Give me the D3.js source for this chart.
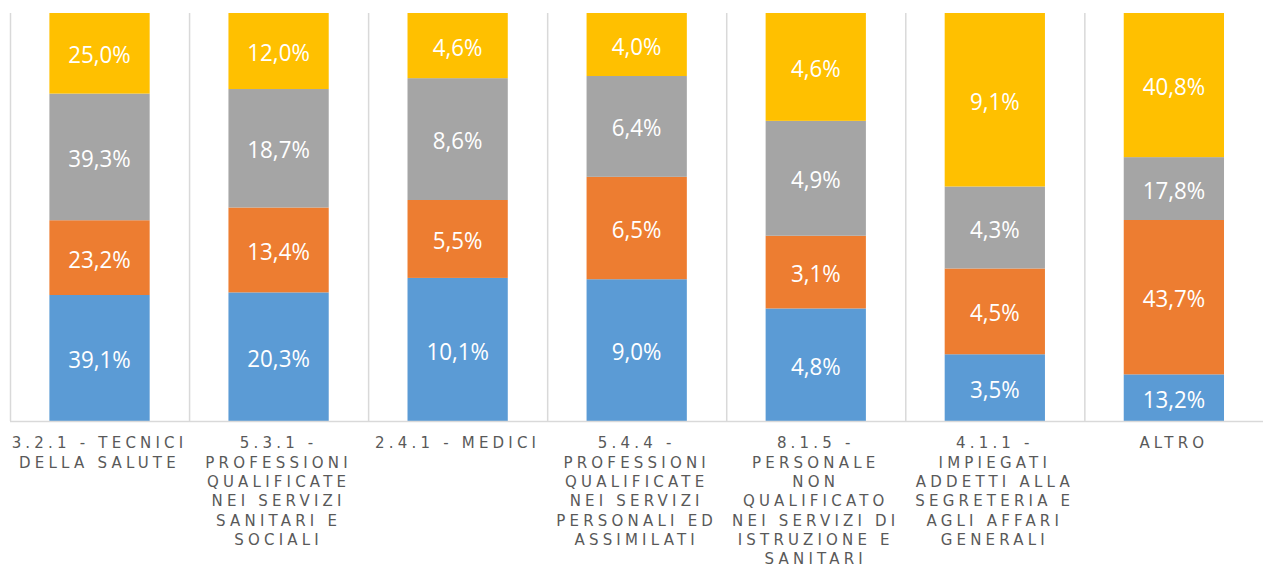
<!DOCTYPE html>
<html>
<head>
<meta charset="utf-8">
<script src="https://cdn.jsdelivr.net/npm/d3@7"></script>
<style>
  body { margin: 0; background: #fff; }
  svg { display: block; }
</style>
</head>
<body>
<svg id="chart" width="1263" height="567"></svg>
<script>
// categories (tick labels, already split into lines as in the picture)
const categoryLines = [
  ["3.2.1 - TECNICI", "DELLA SALUTE"],
  ["5.3.1 -", "PROFESSIONI", "QUALIFICATE", "NEI SERVIZI", "SANITARI E", "SOCIALI"],
  ["2.4.1 - MEDICI"],
  ["5.4.4 -", "PROFESSIONI", "QUALIFICATE", "NEI SERVIZI", "PERSONALI ED", "ASSIMILATI"],
  ["8.1.5 -", "PERSONALE", "NON", "QUALIFICATO", "NEI SERVIZI DI", "ISTRUZIONE E", "SANITARI"],
  ["4.1.1 -", "IMPIEGATI", "ADDETTI ALLA", "SEGRETERIA E", "AGLI AFFARI", "GENERALI"],
  ["ALTRO"]
];

// series values (percent), bottom to top
const seriesBlue   = [39.1, 20.3, 10.1, 9.0, 4.8, 3.5, 13.2];
const seriesOrange = [23.2, 13.4, 5.5, 6.5, 3.1, 4.5, 43.7];
const seriesGray   = [39.3, 18.7, 8.6, 6.4, 4.9, 4.3, 17.8];
const seriesYellow = [25.0, 12.0, 4.6, 4.0, 4.6, 9.1, 40.8];

const seriesList = [seriesBlue, seriesOrange, seriesGray, seriesYellow];
const seriesKeys = ["blue", "orange", "gray", "yellow"];
const colors = ["#5B9BD5", "#ED7D31", "#A5A5A5", "#FFC000"];

const svg = d3.select("#chart");
const plotLeft = 10, plotRight = 1263.4, plotTop = 13, plotBottom = 421;

// build rows for the stack, normalised to 100% per column
const rows = categoryLines.map((c, i) => {
  const row = { idx: i };
  seriesKeys.forEach((k, j) => { row[k] = seriesList[j][i]; });
  return row;
});

const stack = d3.stack().keys(seriesKeys).offset(d3.stackOffsetExpand);
const stacked = stack(rows);

const x = d3.scaleBand()
  .domain(d3.range(categoryLines.length))
  .range([plotLeft, plotRight])
  .paddingInner(0.44)
  .paddingOuter(0.22);

const y = d3.scaleLinear().domain([0, 1]).range([plotBottom, plotTop]);

// vertical separators between categories
const step = x.step();
svg.append("g")
  .selectAll("line")
  .data(d3.range(categoryLines.length))
  .join("line")
  .attr("x1", d => x(d) - x.paddingOuter() * step + 0.5)
  .attr("x2", d => x(d) - x.paddingOuter() * step + 0.5)
  .attr("y1", plotTop)
  .attr("y2", plotBottom)
  .attr("stroke", "#d9d9d9")
  .attr("stroke-width", 1.5);

// bars
const groups = svg.append("g")
  .selectAll("g")
  .data(stacked)
  .join("g")
  .attr("fill", (d, i) => colors[i]);

groups.selectAll("rect")
  .data(d => d)
  .join("rect")
  .attr("x", d => x(d.data.idx))
  .attr("width", x.bandwidth())
  .attr("y", d => y(d[1]))
  .attr("height", d => y(d[0]) - y(d[1]));

// data labels (slightly condensed, like the original font)
const labelSize = 24;
stacked.forEach((s, si) => {
  svg.append("g")
    .selectAll("text")
    .data(s)
    .join("text")
    .attr("transform", d => {
      const cx = x(d.data.idx) + x.bandwidth() / 2;
      const cy = (y(d[0]) + y(d[1])) / 2 + labelSize * 0.357 + 1.5;
      return `translate(${cx},${cy}) scale(0.93,1)`;
    })
    .attr("text-anchor", "middle")
    .attr("fill", "#ffffff")
    .style("font-family", "'Open Sans', sans-serif")
    .style("font-size", labelSize + "px")
    .text(d => d3.format(".1f")(seriesList[si][d.data.idx]).replace(".", ",") + "%");
});

// axis line
svg.append("line")
  .attr("x1", plotLeft).attr("x2", plotRight)
  .attr("y1", plotBottom + 0.5).attr("y2", plotBottom + 0.5)
  .attr("stroke", "#d9d9d9")
  .attr("stroke-width", 1.5);

// category labels
const spacing = 4.2;
const labels = svg.append("g")
  .selectAll("text")
  .data(categoryLines)
  .join("text")
  .attr("text-anchor", "middle")
  .attr("fill", "#595959")
  .style("font-family", "'DejaVu Sans', sans-serif")
  .style("font-size", "15px")
  .style("letter-spacing", spacing + "px");

labels.each(function (lines, i) {
  const cx = x(i) + x.bandwidth() / 2;
  d3.select(this).selectAll("tspan")
    .data(lines)
    .join("tspan")
    .attr("x", cx)
    .attr("y", (d, j) => 448.3 + j * 19.35)
    .text(d => d);
});
</script>
</body>
</html>
